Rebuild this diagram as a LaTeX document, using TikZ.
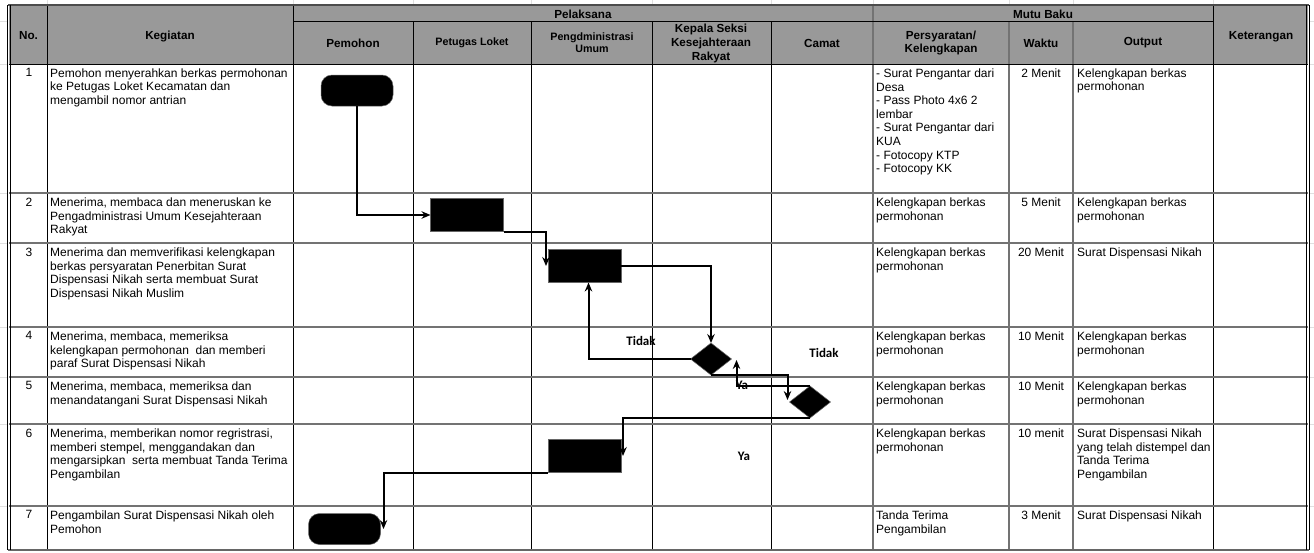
\documentclass[tikz,border=0pt]{standalone}
\usepackage{fontspec}
\setmainfont{Liberation Sans}
\newfontfamily\lblfont{Carlito}
\usetikzlibrary{arrows.meta,shapes.geometric,calc}
\begin{document}
\begin{tikzpicture}[x=1pt,y=-1pt,
  cell/.style={anchor=north west,inner sep=0pt,align=left,font=\fontsize{12}{13.6}\selectfont},
  num/.style={anchor=north,inner sep=0pt,align=center,font=\fontsize{12}{13.6}\selectfont},
  hd/.style={inner sep=0pt,align=center,font=\fontsize{11.7}{13.3}\selectfont\bfseries},
  hdk/.style={inner sep=0pt,align=center,font=\fontsize{11.7}{14}\selectfont\bfseries},
  hds/.style={inner sep=0pt,align=center,font=\fontsize{10.7}{12}\selectfont\bfseries},
  blk/.style={fill=black,draw=black!60,line width=0.5pt,outer sep=0pt},
  term/.style={blk,rectangle,rounded corners=11pt,minimum width=72pt,minimum height=31pt,inner sep=0pt},
  proc/.style={blk,rectangle,minimum width=73pt,minimum height=33pt,inner sep=0pt},
  dec/.style={blk,diamond,minimum width=41pt,minimum height=32pt,inner sep=0pt},
  conn/.style={line width=2pt,-{Stealth[length=9pt,width=7.5pt,inset=3pt]}},
  lbl/.style={inner sep=0pt,font=\lblfont\bfseries\fontsize{13}{14}\selectfont},
  rowline/.style={draw=black!55,line width=1.6pt},
  colthin/.style={draw=black,line width=1pt},
  colgray/.style={draw=black!55,line width=1.6pt},
  faint/.style={draw=black!12,line width=0.6pt}]
\useasboundingbox (0,0) rectangle (1314,552);
\fill[white] (0,0) rectangle (1314,552);
% spreadsheet gridlines in margins
\foreach \x in {47,293,413,531,652,771,873,1009,1073,1213}
  \draw[faint] (\x,0) -- (\x,5);
\foreach \y in {21.5,64,193,243,327,377,424,506}
  {\draw[faint] (0,\y) -- (8,\y); \draw[faint] (1309,\y) -- (1314,\y);}
% header fill
\fill[black!40] (9,5) rectangle (1308,64);
% vertical lines
\foreach \x in {47,293,1213} \draw[colthin] (\x,5) -- (\x,550);
\draw[colgray] (873,5) -- (873,550);
\foreach \x in {413,531,652,771} \draw[colthin] (\x,21.5) -- (\x,550);
\foreach \x in {1009,1073} \draw[colgray] (\x,21.5) -- (\x,550);
% horizontal lines
\draw[colthin] (293,21.5) -- (1213,21.5);
\draw[colthin] (9,64) -- (1308,64);
\foreach \y in {193,243,327,377,424,506} \draw[rowline] (9,\y) -- (1308,\y);
% outer border
\draw[black!70,line width=1.8pt] (8,5) -- (1309,5);
\draw[black!60,line width=1.4pt] (8,550) -- (1309,550);
\draw[line width=0.8pt] (7.8,5) -- (7.8,550) (10.3,5) -- (10.3,550);
\draw[line width=0.8pt] (1306.3,5) -- (1306.3,550) (1309,5) -- (1309,550);
% header texts
\node[hd] (hno) at (28.5,36) {No.};
\node[hd] (hkeg) at (170,36) {Kegiatan};
\node[hd] (hpel) at (583,14.5) {Pelaksana};
\node[hd] (hpem) at (353,43) {Pemohon};
\node[hds] (hpet) at (472,43) {Petugas Loket};
\node[hds] (hpen) at (592,43) {Pengdministrasi\\Umum};
\node[hdk] (hkep) at (711,43) {Kepala Seksi\\Kesejahteraan\\Rakyat};
\node[hd] (hcam) at (822,43) {Camat};
\node[hd] (hmut) at (1043,14.5) {Mutu Baku};
\node[hd] (hper) at (941,43) {Persyaratan/\\Kelengkapan};
\node[hd] (hwak) at (1041,43) {Waktu};
\node[hd] (hout) at (1143,43) {Output};
\node[hd] (hket) at (1261,36.5) {Keterangan};
% row 1
\node[num] (n1) at (29,68.5) {1};
\node[cell] (k1) at (50,68.5) {Pemohon menyerahkan berkas permohonan\\ke Petugas Loket Kecamatan dan\\mengambil nomor antrian};
\node[cell] (p1) at (876,68.5) {- Surat Pengantar dari\\Desa\\- Pass Photo 4x6 2\\lembar\\- Surat Pengantar dari\\KUA\\- Fotocopy KTP\\- Fotocopy KK};
\node[num] (w1) at (1041,68.5) {2 Menit};
\node[cell] (o1) at (1077,68.5) {Kelengkapan berkas\\permohonan};
% row 2
\node[num] (n2) at (29,197.5) {2};
\node[cell] (k2) at (50,197.5) {Menerima, membaca dan meneruskan ke\\Pengadministrasi Umum Kesejahteraan\\Rakyat};
\node[cell] (p2) at (876,197.5) {Kelengkapan berkas\\permohonan};
\node[num] (w2) at (1041,197.5) {5 Menit};
\node[cell] (o2) at (1077,197.5) {Kelengkapan berkas\\permohonan};
% row 3
\node[num] (n3) at (29,247.5) {3};
\node[cell] (k3) at (50,247.5) {Menerima dan memverifikasi kelengkapan\\berkas persyaratan Penerbitan Surat\\Dispensasi Nikah serta membuat Surat\\Dispensasi Nikah Muslim};
\node[cell] (p3) at (876,247.5) {Kelengkapan berkas\\permohonan};
\node[num] (w3) at (1041,247.5) {20 Menit};
\node[cell] (o3) at (1077,247.5) {Surat Dispensasi Nikah};
% row 4
\node[num] (n4) at (29,331.5) {4};
\node[cell] (k4) at (50,331.5) {Menerima, membaca, memeriksa\\kelengkapan permohonan\ \ dan memberi\\paraf Surat Dispensasi Nikah};
\node[cell] (p4) at (876,331.5) {Kelengkapan berkas\\permohonan};
\node[num] (w4) at (1041,331.5) {10 Menit};
\node[cell] (o4) at (1077,331.5) {Kelengkapan berkas\\permohonan};
% row 5
\node[num] (n5) at (29,381.5) {5};
\node[cell] (k5) at (50,381.5) {Menerima, membaca, memeriksa dan\\menandatangani Surat Dispensasi Nikah};
\node[cell] (p5) at (876,381.5) {Kelengkapan berkas\\permohonan};
\node[num] (w5) at (1041,381.5) {10 Menit};
\node[cell] (o5) at (1077,381.5) {Kelengkapan berkas\\permohonan};
% row 6
\node[num] (n6) at (29,428.5) {6};
\node[cell] (k6) at (50,428.5) {Menerima, memberikan nomor regristrasi,\\memberi stempel, menggandakan dan\\mengarsipkan\ \ serta membuat Tanda Terima\\Pengambilan};
\node[cell] (p6) at (876,428.5) {Kelengkapan berkas\\permohonan};
\node[num] (w6) at (1041,428.5) {10 menit};
\node[cell] (o6) at (1077,428.5) {Surat Dispensasi Nikah\\yang telah distempel dan\\Tanda Terima\\Pengambilan};
% row 7
\node[num] (n7) at (29,510.5) {7};
\node[cell] (k7) at (50,510.5) {Pengambilan Surat Dispensasi Nikah oleh\\Pemohon};
\node[cell] (p7) at (876,510.5) {Tanda Terima\\Pengambilan};
\node[num] (w7) at (1041,510.5) {3 Menit};
\node[cell] (o7) at (1077,510.5) {Surat Dispensasi Nikah};
% flow shapes
\node[term] (t1) at (357,90.5) {};
\node[proc] (r2) at (467,215) {};
\node[proc] (r3) at (584.5,266) {};
\node[dec] (d1) at (711,359) {};
\node[dec] (d2) at (810,402) {};
\node[proc] (r6) at (584.5,456) {};
\node[term] (t7) at (344.5,529) {};
% labels
\node[lbl] (l1) at (641,341) {Tidak};
\node[lbl] (l2) at (824,353) {Tidak};
\node[lbl] (l3) at (742,385) {Ya};
\node[lbl] (l4) at (744,456) {Ya};
% connectors
\draw[conn] (t1.south) |- (r2.west);
\coordinate (c1) at ($(r3.west)+(-2,0)$);
\draw[conn] (r2.south east) -| (c1);
\draw[conn] (r3.east) -| (d1.north);
\coordinate (c2) at ($(r3.south)+(4,0)$);
\draw[conn] (d1.west) -| (c2);
\coordinate (c3) at ($(d2.west)+(-2,-2)$);
\draw[conn] (d1.south) -| (c3);
\coordinate (c4) at ($(d1.east)+(5,1)$);
\draw[conn] (d2.north) -| (c4);
\coordinate (c5) at ($(r6.east)+(2,0)$);
\draw[conn] (d2.south) -| (c5);
\coordinate (c6) at ($(t7.east)+(3,0)$);
\draw[conn] (r6.south west) -| (c6);
\end{tikzpicture}
\end{document}
